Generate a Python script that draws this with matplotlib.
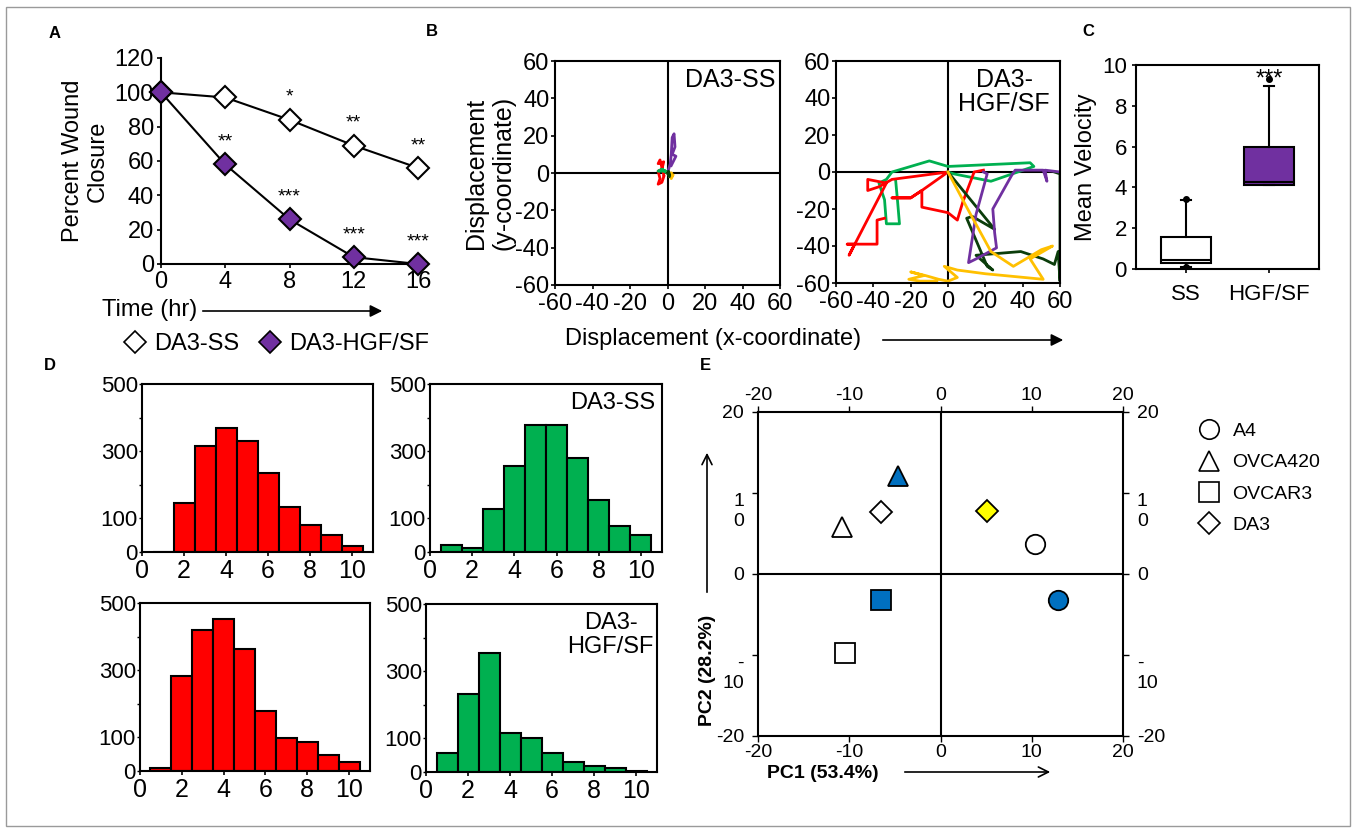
import matplotlib
matplotlib.use('Agg')
import matplotlib.pyplot as plt
from matplotlib.lines import Line2D
from matplotlib.patches import FancyArrowPatch, Rectangle

plt.rcParams['font.family'] = ['Liberation Sans', 'DejaVu Sans']
plt.rcParams['axes.unicode_minus'] = False
plt.rcParams['axes.linewidth'] = 1.5

W, H = 1357, 833

# ---- panel A: wound closure
time_hr = [0, 4, 8, 12, 16]
closure_ss = [100, 97, 84, 69, 56]
closure_hgf = [100, 58, 26, 4, 0]
stars_ss = ['', '', '*', '**', '**']
stars_hgf = ['', '**', '***', '***', '***']

# ---- panel B: cell tracks (x, y displacement)
ss_tracks = {
    '#7030A0': ([0, 1.5, 2, 2.5, 3.5, 4, 2.5, 4.5, 3, 2], [0, 5, 10, 19, 21, 14, 10, 9, 6, 4]),
    '#FF0000': ([-2, -4, -5, -2, -3, -5, -4, -5, -3, -2], [-1, 7, 5, 6, 2, 1, -3, -6, -5, -2]),
    '#00B050': ([0, -3, -5, -1, -3, 0], [0, 2, 1, 1, 2, 0]),
    '#FFC000': ([0, 1, 2, 3, 1, 2], [0, -1, -3, -1, -2, 0]),
    '#0B3D0B': ([0, 1, 0.5, 1], [0, -2, 1, -1]),
}
hgf_tracks = {
    '#00B050': ([-28, -27, -26, -33, -34, -37, -33, -30, -10, 0, 44, 46, 23, 3, 0],
                [-5, -16, -28, -28, -15, -6, -4, 0, 6, 3, 5, 3, -5, -1, 0]),
    '#FF0000': ([-34, -38, -38, -54, -50, -53, -33, -43, -43, -37, -30, 0, -14, -20, -30,
                 -20, -14, -14, 0, 5, 8, 14, 19],
                [-25, -26, -39, -39, -39, -45, -6, -4, -10, -8, -4, 0, -10, -14, -14,
                 -14, -10, -19, -22, -26, -16, 0, 1]),
    '#0B3D0B': ([0, 25, 13, 10, 21, 24, 15, 39, 51, 57, 59, 60, 60, 57],
                [0, -31, -24, -25, -51, -53, -45, -43, -47, -50, -43, -59, -1, 0]),
    '#7030A0': ([19, 21, 15, 11, 15, 26, 25, 24, 34, 36, 51, 53, 52, 60],
                [0, -1, -23, -49, -47, -41, -33, -20, -2, 1, 1, -5, 1, 0]),
    '#FFC000': ([0, 10, 23, 35, 50, 56, 44, 51, 20, 5, -2, 5, 0, -5, -12, -20, -13, -21, -15, -6],
                [0, -19, -43, -51, -42, -40, -47, -58, -55, -53, -51, -57, -59, -58, -56, -54,
                 -56, -58, -59, -59]),
}

# ---- panel C: mean velocity box plots
vel_groups = ['SS', 'HGF/SF']
vel_q1 = [0.3, 4.1]
vel_med = [0.46, 4.27]
vel_q3 = [1.55, 6.0]
vel_lo = [0.1, 4.1]
vel_hi = [3.4, 8.95]
vel_fliers = [[3.45, 0.12], [9.3]]

# ---- panel D: histograms, bins centred on 1..10
bin_centers = [1, 2, 3, 4, 5, 6, 7, 8, 9, 10]
hist_tl = [0, 146, 316, 369, 329, 236, 134, 80, 50, 18]
hist_tr = [22, 11, 127, 256, 378, 378, 281, 155, 78, 50]
hist_bl = [9, 282, 421, 453, 363, 178, 99, 86, 47, 26]
hist_br = [57, 232, 353, 116, 101, 56, 31, 18, 12, 4]

# ---- panel E: PCA
pc_x = [-4.7, -6.5, -10.8, 5.1, 10.4, -6.5, 12.9, -10.5]
pc_y = [12.1, 7.7, 5.8, 7.8, 3.7, -3.2, -3.2, -9.7]
pc_marker = ['^', 'D', '^', 'D', 'o', 's', 'o', 's']
pc_color = ['#0070C0', 'white', 'white', '#FFFF00', 'white', '#0070C0', '#0070C0', 'white']
legend_lines = ['A4', 'OVCA420', 'OVCAR3', 'DA3']
legend_marks = ['o', '^', 's', 'D']


def px_axes(x0, y0, x1, y1):
    return fig.add_axes([x0 / W, 1 - y1 / H, (x1 - x0) / W, (y1 - y0) / H])


def fig_arrow(x0, y0, x1, y1, style):
    arr = FancyArrowPatch((x0 / W, 1 - y0 / H), (x1 / W, 1 - y1 / H),
                          transform=fig.transFigure, arrowstyle=style,
                          mutation_scale=18, lw=1.2, color='black')
    fig.add_artist(arr)


fig = plt.figure(figsize=(W / 100, H / 100), dpi=100)
fig.add_artist(Rectangle((6 / W, 7 / H), 1 - 13 / W, 1 - 14 / H, transform=fig.transFigure,
                         fill=False, edgecolor='#9a9a9a', lw=1))

for letter, x, y in [('A', 55, 33), ('B', 432, 32), ('C', 1088, 32), ('D', 50, 365), ('E', 705, 365)]:
    fig.text(x / W, 1 - y / H, letter, fontsize=12, fontweight='bold', ha='center', va='center')

# ---------------- A
ax = px_axes(161, 58, 418, 264)
ax.plot(time_hr, closure_ss, '-', color='black', lw=1.5, marker='D', ms=11,
        mfc='white', mec='black', mew=1.5, clip_on=False, zorder=3)
ax.plot(time_hr, closure_hgf, '-', color='black', lw=1.5, marker='D', ms=11,
        mfc='#7030A0', mec='black', mew=1.5, clip_on=False, zorder=3)
for xv, yv, s in zip(time_hr, closure_ss, stars_ss):
    if s:
        ax.annotate(s, (xv, yv), xytext=(0, 10), textcoords='offset points',
                    ha='center', va='bottom', fontsize=14)
for xv, yv, s in zip(time_hr, closure_hgf, stars_hgf):
    if s:
        ax.annotate(s, (xv, yv), xytext=(0, 10), textcoords='offset points',
                    ha='center', va='bottom', fontsize=14)
ax.set_xlim(0, 16)
ax.set_ylim(0, 120)
ax.set_xticks(time_hr)
ax.set_yticks(range(0, 121, 20))
ax.spines['top'].set_visible(False)
ax.spines['right'].set_visible(False)
ax.tick_params(labelsize=17, length=3, width=1.2, pad=2)
ax.set_ylabel('Percent Wound\nClosure', fontsize=17, labelpad=4)
fig.text(150 / W, 1 - 310 / H, 'Time (hr)', fontsize=17, ha='center', va='center')
fig_arrow(200, 311, 385, 311, '-|>')
fig.legend(handles=[Line2D([], [], ls='', marker='D', ms=11, mfc='white', mec='black', mew=1.2),
                    Line2D([], [], ls='', marker='D', ms=11, mfc='#7030A0', mec='black', mew=1.2)],
           labels=['DA3-SS', 'DA3-HGF/SF'], ncol=2, loc='center', frameon=False,
           bbox_to_anchor=(276 / W, 1 - 344 / H), fontsize=17, handletextpad=0.3,
           columnspacing=0.8, handlelength=1.0)

# ---------------- B
for (x0, x1, y1), tracks, title in [((555, 780, 285), ss_tracks, 'DA3-SS'),
                                    ((836, 1060, 283), hgf_tracks, 'DA3-\nHGF/SF')]:
    ax = px_axes(x0, 61, x1, y1)
    ax.axhline(0, color='black', lw=1.5, zorder=1)
    ax.axvline(0, color='black', lw=1.5, zorder=1)
    for col, (tx, ty) in tracks.items():
        ax.plot(tx, ty, color=col, lw=2, zorder=2)
    ax.set_xlim(-60, 60)
    ax.set_ylim(-60, 60)
    ax.set_xticks(range(-60, 61, 20))
    ax.set_yticks(range(-60, 61, 20))
    ax.tick_params(labelsize=17, length=3, width=1.2, pad=1)
    ax.tick_params(axis='x', pad=3)
    if title == 'DA3-SS':
        ax.text(0.98, 0.97, title, transform=ax.transAxes, ha='right', va='top', fontsize=18)
        ax.set_ylabel('Displacement\n(y-coordinate)', fontsize=18, labelpad=0)
    else:
        ax.text(0.75, 0.97, title, transform=ax.transAxes, ha='center', va='top', fontsize=18,
                linespacing=1.0)
fig.text(713 / W, 1 - 339 / H, 'Displacement (x-coordinate)', fontsize=17, ha='center', va='center')
fig_arrow(880, 340, 1066, 340, '-|>')

# ---------------- C
ax = px_axes(1136, 65, 1319, 269)
stats = []
for i in range(2):
    stats.append(dict(label=vel_groups[i], q1=vel_q1[i], med=vel_med[i], q3=vel_q3[i],
                      whislo=vel_lo[i], whishi=vel_hi[i], fliers=vel_fliers[i]))
bp = ax.bxp(stats, positions=[1, 2], widths=0.6, patch_artist=True, showfliers=True,
            capwidths=0.12,
            medianprops=dict(color='black', lw=1.5),
            whiskerprops=dict(color='black', lw=1.5),
            capprops=dict(color='black', lw=1.5),
            flierprops=dict(marker='o', ms=4, mfc='black', mec='black'))
for patch, fc in zip(bp['boxes'], ['white', '#7030A0']):
    patch.set_facecolor(fc)
    patch.set_edgecolor('black')
    patch.set_linewidth(1.5)
ax.text(2, 9.3, '***', ha='center', va='center', fontsize=17)
ax.set_xlim(0.4, 2.6)
ax.set_ylim(0, 10)
ax.set_yticks(range(0, 11, 2))
ax.tick_params(labelsize=16, length=3, width=1.2)
ax.tick_params(axis='x', pad=8)
ax.set_ylabel('Mean Velocity', fontsize=17, labelpad=4)

# ---------------- D
hist_specs = [((142, 384, 373, 552), hist_tl, '#FF0000', ''),
              ((430, 384, 662, 552), hist_tr, '#00B050', 'DA3-SS'),
              ((140, 603, 370, 771), hist_bl, '#FF0000', ''),
              ((426, 604, 657, 772), hist_br, '#00B050', 'DA3-\nHGF/SF')]
for (x0, y0, x1, y1), counts, col, title in hist_specs:
    ax = px_axes(x0, y0, x1, y1)
    ax.bar(bin_centers, counts, width=1.0, color=col, edgecolor='black', linewidth=1.5)
    ax.set_xlim(0, 11)
    ax.set_ylim(0, 500)
    ax.set_xticks(range(0, 11, 2))
    ax.set_yticks(range(0, 501, 100))
    ax.set_yticklabels(['0', '100', '', '300', '', '500'])
    ax.tick_params(axis='x', labelsize=18, length=3, width=1.2, pad=2)
    ax.tick_params(axis='y', labelsize=16, length=2, width=1.0, pad=1)
    if title:
        ax.text(0.97 if title == 'DA3-SS' else 0.8, 0.95, title, transform=ax.transAxes,
                ha='right' if title == 'DA3-SS' else 'center', va='top', fontsize=17,
                linespacing=1.1)

# ---------------- E
ax = px_axes(758, 412, 1123, 736)
ax.axhline(0, color='black', lw=1.5, zorder=1)
ax.axvline(0, color='black', lw=1.5, zorder=1)
for xv, yv, m, c in zip(pc_x, pc_y, pc_marker, pc_color):
    size = 11 if m == 'D' else 14
    ax.plot(xv, yv, ls='', marker=m, ms=size, mfc=c, mec='black', mew=1.3, zorder=3)
ax.set_xlim(-20, 20)
ax.set_ylim(-20, 20)
ax.set_xticks([-20, -10, 0, 10, 20])
ax.set_yticks([-20, -10, 0, 10, 20])
ax.set_yticklabels(['-20', '-\n10', '0', '1\n0', '20'])
ax.tick_params(labelsize=14, length=4, width=1.0, pad=2,
               top=True, right=True, labeltop=True, labelright=True)
ax.tick_params(axis='y', pad=6)
for tick in ax.yaxis.get_major_ticks():
    if '\n' in tick.label1.get_text():
        tick.label1.set_va('top')
        tick.label2.set_va('top')
ax.legend(handles=[Line2D([], [], ls='', marker=m, ms=14 if m != 'D' else 11, mfc='white',
                          mec='black', mew=1.2) for m in legend_marks],
          labels=legend_lines, loc='upper left', bbox_to_anchor=(1180 / W, 1 - 405 / H),
          bbox_transform=fig.transFigure, frameon=False, fontsize=14,
          labelspacing=0.7, handletextpad=0.6, handlelength=1.2)
fig.text(767 / W, 1 - 773 / H, 'PC1 (53.4%)', fontsize=14, fontweight='bold', ha='left', va='center')
fig_arrow(902, 772, 1053, 772, '->')
fig.text(707 / W, 1 - 670 / H, 'PC2 (28.2%)', fontsize=14, fontweight='bold', rotation=90,
         ha='center', va='center')
fig_arrow(707, 595, 707, 450, '->')

fig.savefig('out.png', dpi=100)
